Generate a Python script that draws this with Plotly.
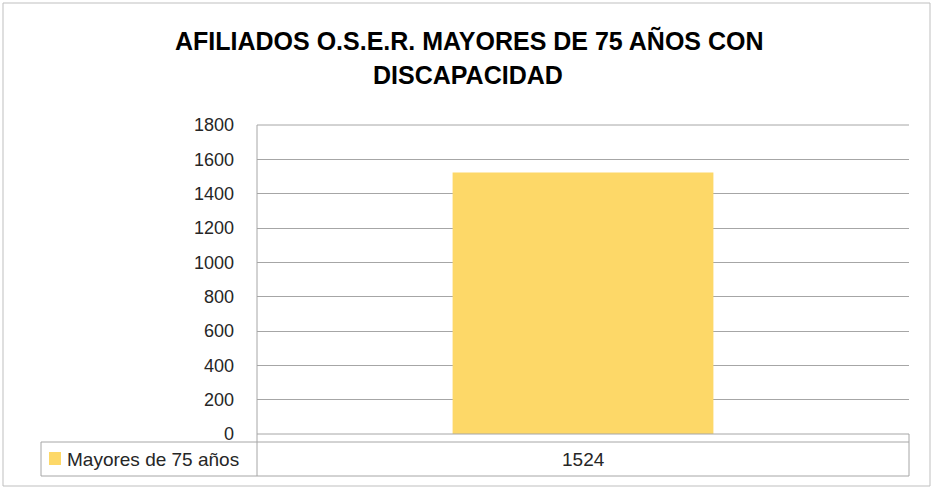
import plotly.graph_objects as go

categories = ["Mayores de 75 años"]
series_name = "Mayores de 75 años"
values = [1524]
title_lines = ["AFILIADOS O.S.E.R. MAYORES DE 75 AÑOS CON", "DISCAPACIDAD"]
y_ticks = [0, 200, 400, 600, 800, 1000, 1200, 1400, 1600, 1800]

W, H = 933, 488
L, R, T, B = 257, 24, 125, 54
PW, PH = W - L - R, H - T - B

def px(x):
    return (x - L) / PW

def py(y):
    return (H - B - y) / PH

BAR = "#FDD868"
GRID = "#A6A6A6"
FONT = "Liberation Sans"

fig = go.Figure(go.Bar(x=categories, y=values, marker=dict(color=BAR, line=dict(width=0)),
                       width=0.4, name=series_name, showlegend=False, hoverinfo="y"))

shapes = []
line = dict(color=GRID, width=1)
# top gridline (range edge)
shapes.append(dict(type="line", xref="paper", yref="paper", x0=0, x1=1, y0=1, y1=1, line=line))
# table box
tbl_top, tbl_bot = py(442), py(476)
shapes.append(dict(type="line", xref="paper", yref="paper", x0=px(41), x1=1, y0=tbl_top, y1=tbl_top, line=line))
shapes.append(dict(type="line", xref="paper", yref="paper", x0=px(41), x1=1, y0=tbl_bot, y1=tbl_bot, line=line))
shapes.append(dict(type="line", xref="paper", yref="paper", x0=px(41), x1=px(41), y0=tbl_top, y1=tbl_bot, line=line))
shapes.append(dict(type="line", xref="paper", yref="paper", x0=0, x1=0, y0=1, y1=tbl_bot, line=line))
shapes.append(dict(type="line", xref="paper", yref="paper", x0=1, x1=1, y0=0, y1=tbl_bot, line=line))
shapes.append(dict(type="line", xref="paper", yref="paper", x0=0, x1=1, y0=0, y1=0, line=line))
# legend key
shapes.append(dict(type="rect", xref="paper", yref="paper", x0=px(49), x1=px(61), y0=py(452), y1=py(465),
                   fillcolor=BAR, line=dict(width=0)))
# outer chart border
shapes.append(dict(type="rect", xref="paper", yref="paper", x0=px(3), x1=px(930), y0=py(3), y1=py(486),
                   line=dict(color="#BFBFBF", width=1), fillcolor="rgba(0,0,0,0)", layer="below"))

annotations = [
    dict(text=title_lines[0], xref="paper", yref="paper", x=px(469), y=py(40), showarrow=False,
         xanchor="center", yanchor="middle", font=dict(family=FONT, size=25, color="#000000", weight="bold")),
    dict(text=title_lines[1], xref="paper", yref="paper", x=px(468), y=py(75), showarrow=False,
         xanchor="center", yanchor="middle", font=dict(family=FONT, size=25, color="#000000", weight="bold")),
    dict(text=series_name, xref="paper", yref="paper", x=px(65), y=py(459), showarrow=False,
         xanchor="left", yanchor="middle", font=dict(family=FONT, size=19, color="#262626")),
]
for c, v in zip(categories, values):
    annotations.append(dict(text=str(v), xref="x", yref="paper", x=c, y=py(459), showarrow=False,
                            xanchor="center", yanchor="middle", font=dict(family=FONT, size=19, color="#262626")))

fig.update_layout(
    width=W, height=H,
    margin=dict(l=L, r=R, t=T, b=B, autoexpand=False),
    paper_bgcolor="white", plot_bgcolor="white",
    xaxis=dict(showticklabels=False, showgrid=False, zeroline=False, showline=False, ticks=""),
    yaxis=dict(range=[0, 1800], tickvals=y_ticks, showgrid=True, gridcolor=GRID, gridwidth=1,
               zeroline=False, showline=False, ticks="", ticklabelstandoff=22,
               tickfont=dict(family=FONT, size=18, color="#262626")),
    shapes=shapes, annotations=annotations,
    bargap=0.6,
)

fig.write_html("out.html", config={"displayModeBar": False},
               post_script="document.body.style.margin='0';document.body.style.overflow='hidden';")
